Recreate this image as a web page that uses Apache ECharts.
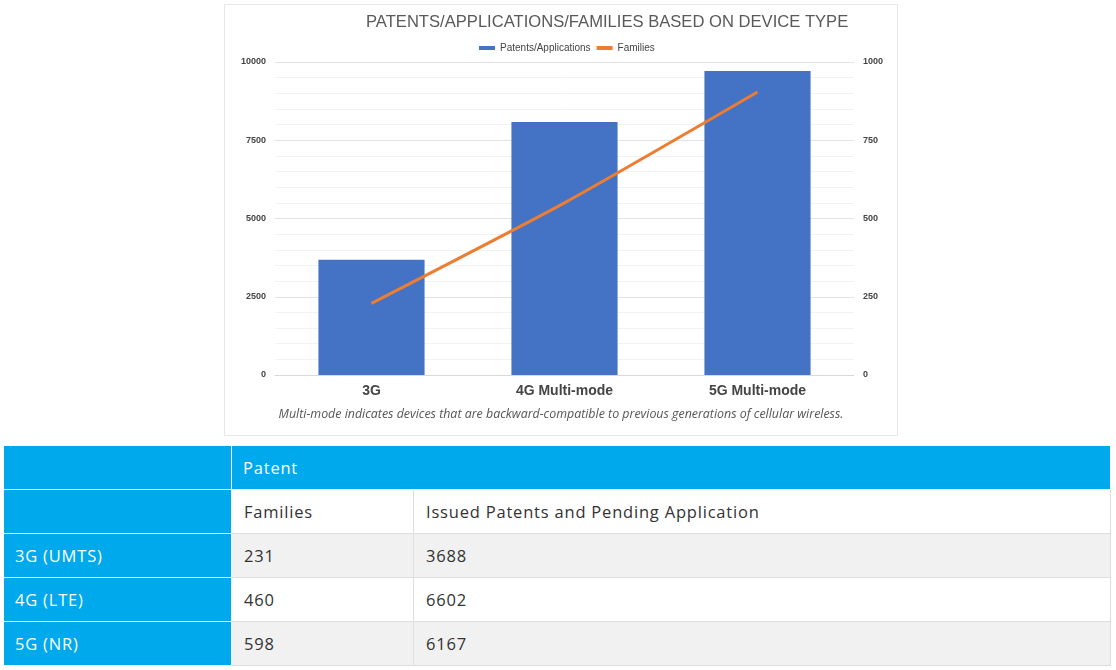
<!DOCTYPE html>
<html>
<head>
<meta charset="utf-8">
<script src="https://cdn.jsdelivr.net/npm/echarts@6/dist/echarts.min.js"></script>
<style>
  body { margin: 0; background: #fff; font-family: "Open Sans", "Lato", sans-serif; }
  #chart { position: absolute; left: 224px; top: 4px; width: 672px; height: 430px; border: 1px solid #e8e8e8; }
  table { position: absolute; left: 3px; top: 445px; width: 1108px; border-collapse: collapse; font-size: 16.5px; letter-spacing: 0.8px; }
  td { height: 43px; padding: 0 0 0 12px; border: 1px solid #dedede; color: #333; }
  td.hd { background: #00a8ec; color: #fff; border-color: #fff; padding-left: 11px; }
  tr.alt td { background: #f1f1f1; }
  tr.alt td.hd, tr td.hd { background: #00a8ec; }
</style>
</head>
<body>
<div id="chart"></div>
<table id="tbl"></table>
<script>
// chart data
const categories = ['3G', '4G Multi-mode', '5G Multi-mode'];
const patentsApps = [3680, 8080, 9710];
const families = [229, 550, 904];

// table data
const tableRows = ['3G (UMTS)', '4G (LTE)', '5G (NR)'];
const tableFamilies = [231, 460, 598];
const tableIssued = [3688, 6602, 6167];

const chart = echarts.init(document.getElementById('chart'));
const axisLbl = {
  color: '#444', fontSize: 9, fontWeight: 'bold', fontFamily: 'Liberation Sans, Arial', margin: 9,
  formatter: v => String(v)
};

const option = {
  animation: false,
  title: [
    {
      text: 'PATENTS/APPLICATIONS/FAMILIES BASED ON DEVICE TYPE',
      left: 136, top: 4,
      textStyle: { color: '#595959', fontSize: 16.6, fontWeight: 'normal', fontFamily: 'Liberation Sans, Arial' }
    },
    {
      text: 'Multi-mode indicates devices that are backward-compatible to previous generations of cellular wireless.',
      left: 'center', top: 398,
      textStyle: { color: '#555', fontSize: 12.4, fontStyle: 'italic', fontWeight: 'normal', fontFamily: 'Open Sans' }
    }
  ],
  legend: {
    left: 249, top: 33,
    itemWidth: 16, itemHeight: 4, itemGap: 6,
    textStyle: { color: '#444', fontSize: 10, fontFamily: 'Liberation Sans, Arial' },
    data: [
      { name: 'Patents/Applications', icon: 'rect' },
      { name: 'Families', icon: 'rect' }
    ]
  },
  grid: { left: 50, right: 43, top: 57, bottom: 60 },
  xAxis: {
    type: 'category',
    data: categories,
    axisLine: { lineStyle: { color: '#d9d9d9' } },
    axisTick: { show: false },
    axisLabel: { color: '#444', fontSize: 14, fontWeight: 'bold', margin: 9, fontFamily: 'Liberation Sans, Arial' }
  },
  yAxis: [
    {
      type: 'value', min: 0, max: 10000, interval: 2500,
      axisLabel: axisLbl,
      splitLine: { lineStyle: { color: '#e3e3e3' } },
      minorTick: { show: false, splitNumber: 5 },
      minorSplitLine: { show: true, lineStyle: { color: '#f2f2f2' } }
    },
    {
      type: 'value', min: 0, max: 1000, interval: 250,
      axisLabel: axisLbl,
      splitLine: { show: false }
    }
  ],
  series: [
    {
      name: 'Patents/Applications',
      type: 'bar',
      data: patentsApps,
      barWidth: '55%',
      itemStyle: { color: '#4472c4' }
    },
    {
      name: 'Families',
      type: 'line',
      yAxisIndex: 1,
      data: families,
      smooth: 0.2,
      showSymbol: false,
      symbol: 'none',
      itemStyle: { color: '#ed7d31' },
      lineStyle: { color: '#ed7d31', width: 3 }
    }
  ]
};
chart.setOption(option);

// build table
const tbl = document.getElementById('tbl');
let html = '<colgroup><col style="width:228px"><col style="width:182px"><col></colgroup>';
html += '<tr><td class="hd"></td><td class="hd" colspan="2">Patent</td></tr>';
html += '<tr><td class="hd"></td><td>Families</td><td>Issued Patents and Pending Application</td></tr>';
tableRows.forEach((r, i) => {
  html += '<tr class="' + (i % 2 === 0 ? 'alt' : '') + '"><td class="hd">' + r + '</td><td>' +
    tableFamilies[i] + '</td><td>' + tableIssued[i] + '</td></tr>';
});
tbl.innerHTML = html;
</script>
</body>
</html>
